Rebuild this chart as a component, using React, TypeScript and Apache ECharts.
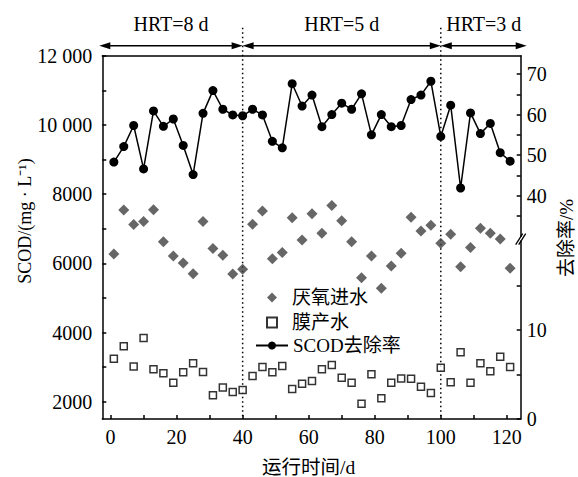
import React, { useEffect, useRef } from "react";
import * as echarts from "echarts";

const days = [1, 4, 7, 10, 13, 16, 19, 22, 25, 28, 31, 34, 37, 40, 43, 46, 49, 52, 55, 58, 61, 64, 67, 70, 73, 76, 79, 82, 85, 88, 91, 94, 97, 100, 103, 106, 109, 112, 115, 118, 121];
const influent = [6270, 7540, 7120, 7210, 7550, 6620, 6210, 6010, 5700, 7210, 6430, 6230, 5690, 5830, 7130, 7510, 6130, 6310, 7320, 6670, 7430, 6870, 7670, 7230, 6620, 5580, 6210, 5280, 5920, 6290, 7330, 6930, 7100, 6580, 6840, 5900, 6460, 7010, 6870, 6700, 5860];
const membrane = [3240, 3600, 3020, 3840, 2940, 2820, 2550, 2850, 3110, 2860, 2190, 2410, 2280, 2340, 2740, 3000, 2850, 3030, 2370, 2520, 2600, 2940, 3060, 2690, 2550, 1940, 2790, 2100, 2550, 2670, 2660, 2430, 2250, 2980, 2560, 3430, 2550, 3110, 2880, 3300, 3000];
const removal = [48.3, 52.1, 57.3, 46.6, 60.9, 57.1, 58.9, 52.4, 45.2, 60.3, 65.9, 61.3, 59.9, 59.7, 61.3, 59.9, 53.4, 51.8, 67.6, 62.1, 64.8, 57.0, 60.0, 62.8, 61.3, 65.1, 55.0, 60.0, 57.0, 57.3, 63.7, 64.8, 68.2, 54.6, 62.3, 41.9, 60.4, 55.3, 57.8, 50.6, 48.5];

const seriesNames = ["厌氧进水", "膜产水", "SCOD去除率"];
const phaseBounds = [40, 100];
const phaseLabels = ["HRT=8 d", "HRT=5 d", "HRT=3 d"];

const xLabelTicks = [0, 20, 40, 60, 80, 100, 120];
const xMinorTicks = [0, 10, 20, 30, 40, 50, 60, 70, 80, 90, 100, 110, 120];
const leftLabelTicks = [2000, 4000, 6000, 8000, 10000, 12000];
const leftMinorTicks = [2000, 3000, 4000, 5000, 6000, 7000, 8000, 9000, 10000, 11000, 12000];
const rightUpperLabels = [40, 50, 60, 70];
const rightUpperTicks = [35, 40, 45, 50, 55, 60, 65, 70];
const rightLowerLabels = [0, 10];
const rightLowerTicks = [0, 5, 10, 15];

const xTitle = "运行时间/d";
const yLeftTitle = "SCOD/(mg · L⁻¹)";
const yRightTitle = "去除率/%";

const FONT = "'Liberation Serif', 'Times New Roman', 'Noto Sans CJK SC', serif";
const BLACK = "#000";

export default function App() {
  const ref = useRef<HTMLDivElement>(null);
  useEffect(() => {
    if (!ref.current) return;
    const chart = echarts.init(ref.current, undefined, { renderer: "svg" });
    const xMin = -2.5;
    const xMax = 124.2;
    const axisLine = { show: true, onZero: false, lineStyle: { color: BLACK, width: 1.5 } };
    const tick = (vals: number[]) => ({ show: true, inside: true, length: 4, customValues: vals, lineStyle: { color: BLACK, width: 1.5 } });
    const labelStyle = { color: BLACK, fontSize: 20, fontFamily: FONT };
    const fmtLeft = (v: number) => (v >= 10000 ? `${Math.floor(v / 1000)} ${String(v % 1000).padStart(3, "0")}` : String(v));
    const legendText = { color: BLACK, fontSize: 19, fontFamily: FONT };

    const option: any = {
      animation: false,
      backgroundColor: "#fff",
      grid: [
        { left: 102.3, right: 57.3, top: 55.7, bottom: 58 },
        { left: 102.3, right: 57.3, top: 55.7, height: 180.6 },
        { left: 102.3, right: 57.3, top: 241, bottom: 58 },
      ],
      xAxis: [
        {
          gridIndex: 0, type: "value", min: xMin, max: xMax, position: "bottom",
          axisLine, axisTick: tick(xMinorTicks),
          axisLabel: { ...labelStyle, margin: 8, customValues: xLabelTicks },
          splitLine: { show: false },
        },
        {
          gridIndex: 1, type: "value", min: xMin, max: xMax, position: "top",
          axisLine, axisTick: { show: false }, axisLabel: { show: false }, splitLine: { show: false },
        },
        { gridIndex: 2, type: "value", min: xMin, max: xMax, show: false },
      ],
      yAxis: [
        {
          gridIndex: 0, type: "value", min: 1500, max: 12000, position: "left",
          axisLine, axisTick: tick(leftMinorTicks),
          axisLabel: { ...labelStyle, margin: 10, customValues: leftLabelTicks, formatter: fmtLeft },
          splitLine: { show: false },
        },
        {
          gridIndex: 1, type: "value", min: 30, max: 74.5, position: "right",
          axisLine, axisTick: tick(rightUpperTicks),
          axisLabel: { ...labelStyle, margin: 6, customValues: rightUpperLabels },
          splitLine: { show: false },
        },
        {
          gridIndex: 2, type: "value", min: 0, max: 20, position: "right",
          axisLine, axisTick: tick(rightLowerTicks),
          axisLabel: { ...labelStyle, margin: 6, customValues: rightLowerLabels },
          splitLine: { show: false },
        },
      ],
      legend: [
        {
          orient: "vertical", left: 261, top: 283, itemWidth: 10, itemHeight: 10, itemGap: 6,
          textStyle: { ...legendText, padding: [0, 0, 0, 10] },
          data: [seriesNames[0], seriesNames[1]],
        },
        {
          orient: "vertical", left: 250, top: 331, itemWidth: 32, itemHeight: 10,
          textStyle: legendText,
          data: [seriesNames[2]],
        },
      ],
      series: [
        {
          name: seriesNames[0], type: "scatter", xAxisIndex: 0, yAxisIndex: 0,
          symbol: "diamond", symbolSize: 11, itemStyle: { color: "#404040" },
          data: days.map((d, i) => [d, influent[i]]),
        },
        {
          name: seriesNames[1], type: "scatter", xAxisIndex: 0, yAxisIndex: 0,
          symbol: "rect", symbolSize: 7,
          itemStyle: { color: "#fff", borderColor: BLACK, borderWidth: 1.5 },
          data: days.map((d, i) => [d, membrane[i]]),
        },
        {
          name: seriesNames[2], type: "line", xAxisIndex: 1, yAxisIndex: 1,
          symbol: "circle", symbolSize: 9, showSymbol: true,
          lineStyle: { color: BLACK, width: 1.5 }, itemStyle: { color: BLACK },
          data: days.map((d, i) => [d, removal[i]]),
        },
      ],
    };
    chart.setOption(option);

    const px = (v: number) => chart.convertToPixel({ xAxisIndex: 0 }, v) as number;
    const py = (v: number) => chart.convertToPixel({ yAxisIndex: 0 }, v) as number;
    const xL = px(xMin);
    const xR = px(xMax);
    const yT = py(12000);
    const yB = py(1500);
    const yBreak = (chart.convertToPixel({ yAxisIndex: 1 }, 30) as number + (chart.convertToPixel({ yAxisIndex: 2 }, 20) as number)) / 2;

    const arrowY = yT - 10;
    const hl = 11;
    const hw = 3.5;
    const bounds = [xL - 3, ...phaseBounds.map(px), xR + 6];
    const graphics: any[] = [];
    for (let i = 0; i < bounds.length - 1; i++) {
      const a = bounds[i];
      const b = bounds[i + 1];
      graphics.push({ type: "line", shape: { x1: a + hl - 1, y1: arrowY, x2: b - hl + 1, y2: arrowY }, style: { stroke: BLACK, lineWidth: 1.5 } });
      graphics.push({ type: "polygon", shape: { points: [[a, arrowY], [a + hl, arrowY - hw], [a + hl, arrowY + hw]] }, style: { fill: BLACK } });
      graphics.push({ type: "polygon", shape: { points: [[b, arrowY], [b - hl, arrowY - hw], [b - hl, arrowY + hw]] }, style: { fill: BLACK } });
      graphics.push({
        type: "text", x: (a + b) / 2, y: 24,
        style: { text: phaseLabels[i], fontSize: 20, fontFamily: FONT, fill: BLACK, align: "center", verticalAlign: "middle" },
      });
    }
    phaseBounds.forEach((v) => {
      const x = px(v);
      graphics.push({ type: "line", shape: { x1: x, y1: yT - 28, x2: x, y2: yB }, style: { stroke: BLACK, lineWidth: 1.5, lineDash: [1.5, 3] } });
    });
    graphics.push({ type: "line", shape: { x1: xR - 5, y1: yBreak + 6, x2: xR + 2, y2: yBreak - 5 }, style: { stroke: BLACK, lineWidth: 1.3 } });
    graphics.push({ type: "line", shape: { x1: xR - 2, y1: yBreak + 6, x2: xR + 5, y2: yBreak - 5 }, style: { stroke: BLACK, lineWidth: 1.3 } });
    graphics.push({
      type: "text", x: 25, y: 221, rotation: Math.PI / 2,
      style: { text: yLeftTitle, fontSize: 18, fontFamily: FONT, fill: BLACK, align: "center", verticalAlign: "middle" },
    });
    graphics.push({
      type: "text", x: 566, y: 238, rotation: Math.PI / 2,
      style: { text: yRightTitle, fontSize: 19, fontFamily: FONT, fill: BLACK, align: "center", verticalAlign: "middle" },
    });
    graphics.push({
      type: "text", x: (px(0) + px(120)) / 2, y: 467,
      style: { text: xTitle, fontSize: 19.5, fontFamily: FONT, fill: BLACK, align: "center", verticalAlign: "middle" },
    });
    chart.setOption({ graphic: graphics });

    return () => chart.dispose();
  }, []);
  return <div ref={ref} style={{ position: "fixed", left: 0, top: 0, width: 578, height: 477 }} />;
}
